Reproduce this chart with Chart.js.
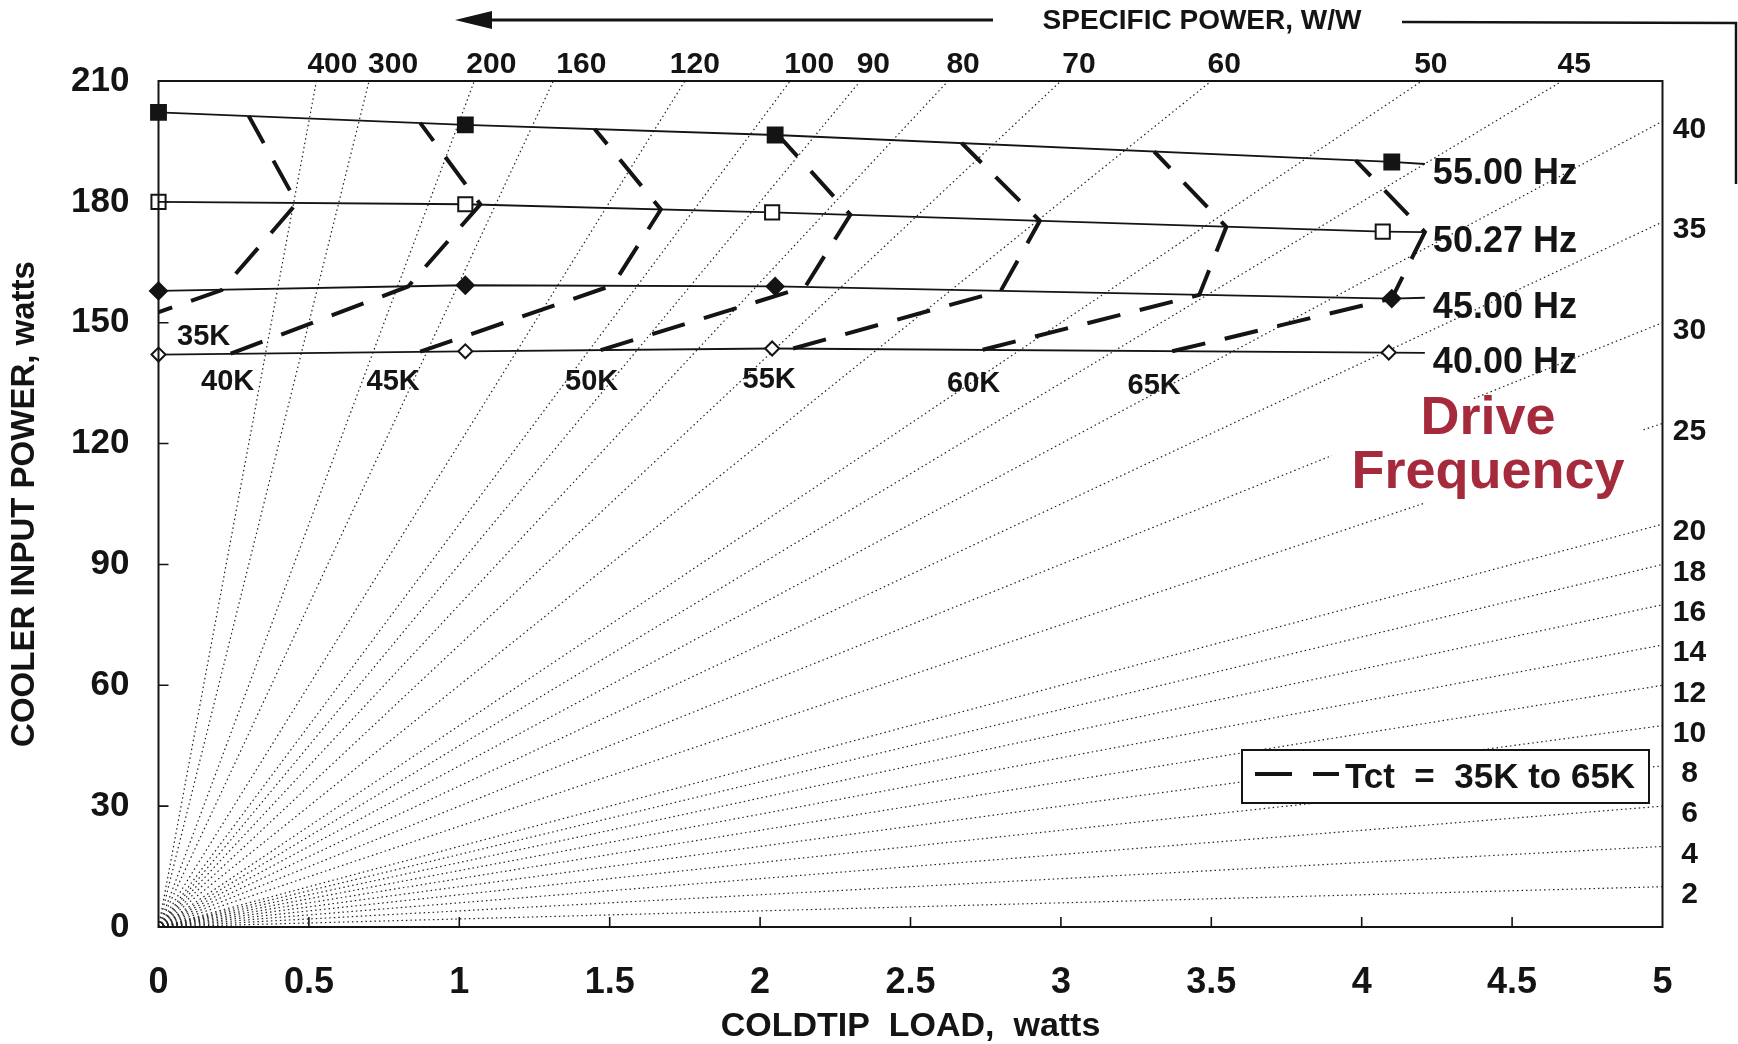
<!DOCTYPE html>
<html>
<head>
<meta charset="utf-8">
<script src="https://cdn.jsdelivr.net/npm/chart.js@4.4.1/dist/chart.umd.min.js"></script>
<style>
  html, body { margin: 0; padding: 0; background: #fff; }
</style>
</head>
<body>
<canvas id="grafico" width="1738" height="1044"></canvas>
<script>
const FONT = "'Liberation Sans', Arial, Helvetica, sans-serif";
const INK = "#141414";

// specific power lines, W/W (each one is power = sp * load, from the origin)
const specificPower = [400, 300, 200, 160, 120, 100, 90, 80, 70, 60, 50, 45,
  40, 35, 30, 25, 20, 18, 16, 14, 12, 10, 8, 6, 4, 2];

// drive frequency curves (last point is only the end of the line, no marker)
const freqNames = ["55.00 Hz", "50.27 Hz", "45.00 Hz", "40.00 Hz"];
const load55 = [0, 1.02, 2.05, 4.10, 4.21];
const power55 = [202.2, 199.1, 196.6, 189.9, 189.4];
const load50 = [0, 1.02, 2.04, 4.07, 4.21];
const power50 = [180.0, 179.4, 177.4, 172.6, 172.5];
const load45 = [0, 1.02, 2.05, 4.10, 4.21];
const power45 = [157.9, 159.3, 159.0, 156.0, 156.2];
const load40 = [0, 1.02, 2.04, 4.09, 4.21];
const power40 = [142.1, 142.9, 143.6, 142.6, 142.5];

// cold tip temperature lines, crossing 40 / 45 / 50.27 / 55 Hz
const tctNames = ["35K", "40K", "45K", "50K", "55K", "60K", "65K"];
const tctLoad = [
  [-0.40, 0.21, 0.46, 0.30],
  [0.24, 0.83, 1.07, 0.87],
  [0.87, 1.51, 1.67, 1.45],
  [1.47, 2.15, 2.30, 2.06],
  [2.11, 2.80, 2.93, 2.67],
  [2.74, 3.46, 3.55, 3.31],
  [3.37, 4.10, 4.21, 3.98]
];
const tctPower = [
  [142.1, 158.1, 179.7, 201.3],
  [142.3, 159.0, 179.4, 199.6],
  [142.8, 159.3, 178.1, 198.1],
  [143.2, 158.9, 176.8, 196.6],
  [143.6, 157.9, 175.3, 194.6],
  [143.3, 156.9, 173.8, 192.5],
  [142.9, 156.0, 172.5, 190.3]
];

const xyPoints = (xs, ys) => xs.map((v, i) => ({ x: v, y: ys[i] }));

const freqSeries = [
  { name: freqNames[0], load: load55, power: power55, style: "rect", fill: INK, r: 10.5 },
  { name: freqNames[1], load: load50, power: power50, style: "rect", fill: "#fff", r: 10 },
  { name: freqNames[2], load: load45, power: power45, style: "rectRot", fill: INK, r: 8.5 },
  { name: freqNames[3], load: load40, power: power40, style: "rectRot", fill: "#fff", r: 7 }
];

// where the temperature labels sit (load, power)
const tctLabelAt = [[0.15, 146.5], [0.23, 135.4], [0.78, 135.4], [1.44, 135.2],
  [2.03, 135.8], [2.71, 134.7], [3.31, 134.2]];

// how far right of its line each top label is printed (px)
const topLabelShift = { 400: 16, 300: 24, 200: 17, 160: 28, 120: 10, 100: 19,
  90: 13, 80: 15, 70: 18, 60: 13, 50: 9, 45: 12 };

const datasets = [];
freqSeries.forEach(f => {
  datasets.push({
    label: f.name,
    data: xyPoints(f.load, f.power),
    showLine: true,
    borderColor: INK,
    borderWidth: 1.8,
    pointStyle: f.style,
    pointRadius: f.load.map((_, i) => (i < f.load.length - 1 ? f.r : 0)),
    pointBackgroundColor: f.fill,
    pointBorderColor: INK,
    pointBorderWidth: 2,
    clip: false,
    order: 0
  });
});
tctNames.forEach((n, k) => {
  datasets.push({
    label: n,
    data: xyPoints(tctLoad[k], tctPower[k]),
    showLine: true,
    borderColor: INK,
    borderWidth: 4,
    borderDash: [34, 20],
    pointRadius: 0,
    order: 1
  });
});
specificPower.forEach(sp => {
  datasets.push({
    label: sp + " W/W",
    data: [{ x: 0, y: 0 }, { x: Math.min(5, 210 / sp), y: Math.min(210, 5 * sp) }],
    showLine: true,
    borderColor: "#222",
    borderWidth: 1.2,
    borderDash: [1.5, 3],
    pointRadius: 0,
    order: 2
  });
});

const decor = {
  id: "decor",
  afterDatasetsDraw(chart) {
    const { ctx, chartArea: a, scales } = chart;
    const xs = scales.x, ys = scales.y;
    ctx.save();
    ctx.strokeStyle = INK;
    ctx.fillStyle = INK;

    // frame
    ctx.lineWidth = 2;
    ctx.strokeRect(a.left, a.top, a.right - a.left, a.bottom - a.top);

    // ticks pointing inside
    ctx.lineWidth = 1.6;
    ctx.beginPath();
    for (let v = 0.5; v < 5; v += 0.5) {
      const px = xs.getPixelForValue(v);
      ctx.moveTo(px, a.bottom);
      ctx.lineTo(px, a.bottom - 10);
    }
    for (let v = 30; v < 210; v += 30) {
      const py = ys.getPixelForValue(v);
      ctx.moveTo(a.left, py);
      ctx.lineTo(a.left + 10, py);
    }
    ctx.stroke();

    // specific power labels, top edge and right edge
    ctx.font = `bold 30px ${FONT}`;
    ctx.textAlign = "center";
    ctx.textBaseline = "middle";
    specificPower.forEach(sp => {
      if (sp * 5 > 210) ctx.fillText(String(sp), xs.getPixelForValue(210 / sp) + topLabelShift[sp], a.top - 16);
      else ctx.fillText(String(sp), a.right + 27, ys.getPixelForValue(sp * 5) + 8);
    });

    // header with arrow
    ctx.lineWidth = 3;
    ctx.beginPath();
    ctx.moveTo(488, 20);
    ctx.lineTo(993, 20);
    ctx.stroke();
    ctx.beginPath();
    ctx.moveTo(455, 20);
    ctx.lineTo(492, 11);
    ctx.lineTo(492, 29);
    ctx.closePath();
    ctx.fill();
    ctx.font = `bold 28px ${FONT}`;
    ctx.fillText("SPECIFIC POWER, W/W", 1202, 21);
    ctx.lineWidth = 2.5;
    ctx.beginPath();
    ctx.moveTo(1402, 22);
    ctx.lineTo(1736, 23);
    ctx.lineTo(1736, 184);
    ctx.stroke();

    // frequency labels at the line ends
    ctx.font = `bold 36px ${FONT}`;
    ctx.textAlign = "left";
    freqSeries.forEach(f => {
      const n = f.load.length - 1;
      ctx.fillText(f.name, xs.getPixelForValue(f.load[n]) + 8, ys.getPixelForValue(f.power[n]) + 10);
    });

    // temperature labels
    ctx.font = `bold 29px ${FONT}`;
    ctx.textAlign = "center";
    tctNames.forEach((n, k) => {
      ctx.fillText(n, xs.getPixelForValue(tctLabelAt[k][0]), ys.getPixelForValue(tctLabelAt[k][1]));
    });

    // Drive Frequency note
    ctx.fillStyle = "#fff";
    ctx.fillRect(1332, 399, 310, 104);
    ctx.fillStyle = "#a52a3c";
    ctx.font = `bold 54px ${FONT}`;
    ctx.textBaseline = "alphabetic";
    ctx.fillText("Drive", 1488, 434);
    ctx.fillText("Frequency", 1488, 488);

    // legend box
    ctx.fillStyle = "#fff";
    ctx.fillRect(1242, 750, 407, 53);
    ctx.strokeStyle = INK;
    ctx.lineWidth = 2;
    ctx.strokeRect(1242, 750, 407, 53);
    ctx.lineWidth = 4;
    ctx.beginPath();
    ctx.moveTo(1255, 774);
    ctx.lineTo(1292, 774);
    ctx.moveTo(1313, 774);
    ctx.lineTo(1339, 774);
    ctx.stroke();
    ctx.fillStyle = INK;
    ctx.font = `bold 35px ${FONT}`;
    ctx.textAlign = "left";
    ctx.textBaseline = "middle";
    ctx.fillText("Tct  =  35K to 65K", 1345, 778);

    ctx.restore();
  }
};

new Chart(document.getElementById("grafico"), {
  type: "scatter",
  data: { datasets },
  options: {
    responsive: false,
    animation: false,
    devicePixelRatio: 1,
    layout: { padding: { left: 0, top: 81, right: 75.5, bottom: 0 } },
    plugins: { legend: { display: false }, tooltip: { enabled: false } },
    scales: {
      x: {
        type: "linear",
        min: 0,
        max: 5,
        afterFit: s => { s.height = 117; },
        grid: { display: false, drawTicks: false },
        border: { display: false },
        ticks: {
          stepSize: 0.5,
          padding: 34,
          color: INK,
          font: { family: FONT, size: 36, weight: "bold" },
          callback: v => String(v)
        },
        title: {
          display: true,
          text: "COLDTIP  LOAD,  watts",
          color: INK,
          padding: { top: 0, bottom: -3 },
          font: { family: FONT, size: 34, weight: "bold" }
        }
      },
      y: {
        type: "linear",
        min: 0,
        max: 210,
        afterFit: s => { s.width = 158.5; },
        grid: { display: false, drawTicks: false },
        border: { display: false },
        ticks: {
          stepSize: 30,
          padding: 29,
          color: INK,
          font: { family: FONT, size: 35, weight: "bold" }
        },
        title: {
          display: true,
          text: "COOLER INPUT POWER, watts",
          color: INK,
          padding: { top: 5, bottom: 0 },
          font: { family: FONT, size: 33, weight: "bold" }
        }
      }
    }
  },
  plugins: [decor]
});
</script>
</body>
</html>
